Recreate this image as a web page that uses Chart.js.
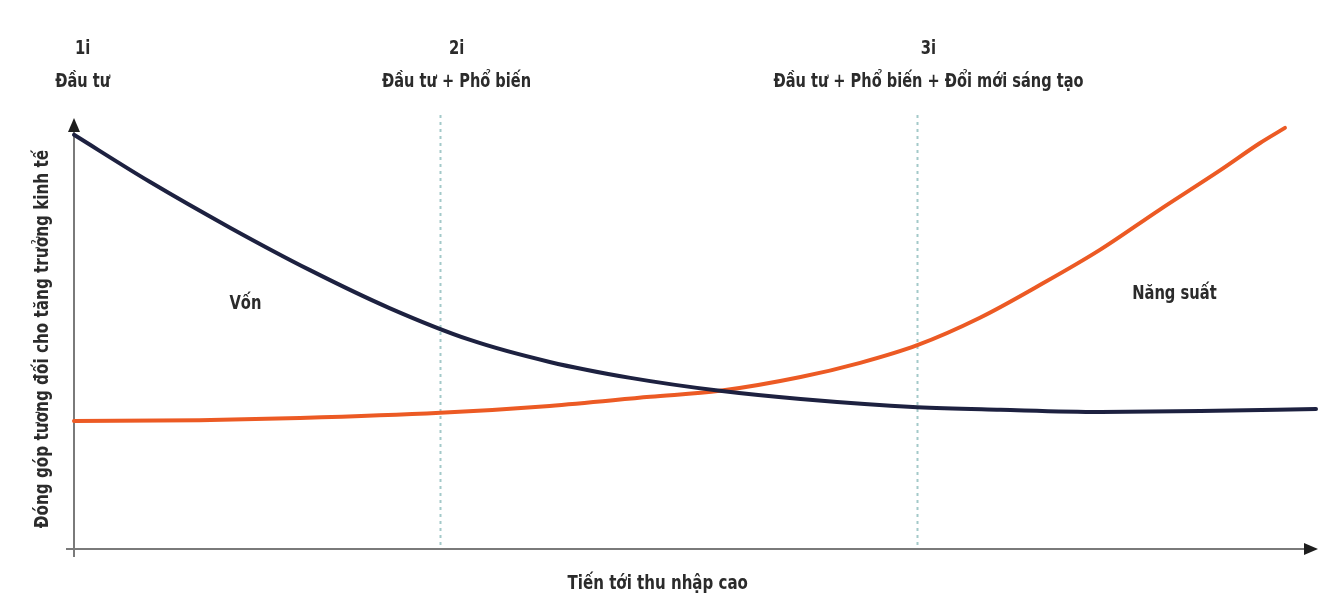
<!DOCTYPE html>
<html>
<head>
<meta charset="utf-8">
<script src="https://cdn.jsdelivr.net/npm/chart.js@4/dist/chart.umd.min.js"></script>
<style>
  html, body { margin: 0; padding: 0; background: #ffffff; }
  #wrap { width: 1330px; height: 598px; }
</style>
</head>
<body>
<div id="wrap"><canvas id="c" width="1330" height="598"></canvas></div>
<script>
// Position along the path to high income (0–100) and relative contribution (0–100)
const vonX = [0, 6.1, 12.6, 19.0, 25.4, 31.9, 38.3, 44.8, 52.0, 58.5, 67.9, 74.6, 82.6, 90.7, 100];
const vonY = [96.1, 85.2, 74.5, 64.7, 55.9, 48.5, 43.4, 39.7, 36.7, 34.8, 32.9, 32.3, 31.8, 32.0, 32.5];

const nangSuatX = [0, 10.1, 18.2, 29.5, 38.3, 46.4, 52.0, 58.5, 63.3, 67.9, 72.9, 77.8, 82.6, 87.4, 92.3, 95.5, 97.5];
const nangSuatY = [29.7, 29.9, 30.4, 31.6, 33.2, 35.3, 36.7, 39.9, 43.2, 47.3, 53.6, 61.3, 69.4, 78.7, 87.9, 94.2, 97.7];

// Stage markers (dotted verticals) and their headings
const stageLineX = [29.5, 67.9];
const stageHeadX = [0.7, 30.8, 68.8];
const stageNum = ['1i', '2i', '3i'];
const stageName = ['Đầu tư', 'Đầu tư + Phổ biến', 'Đầu tư + Phổ biến + Đổi mới sáng tạo'];

// In-plot series labels
const seriesNames = ['Vốn', 'Năng suất'];
const seriesLabelX = [13.8, 88.6];
const seriesLabelY = [57.3, 59.6];

const xTitle = 'Tiến tới thu nhập cao';
const xTitleAt = 47.0;
const yTitle = 'Đóng góp tương đối cho tăng trưởng kinh tế';
const yTitleAt = 48.7;

const FONT = '"DejaVu Sans Condensed", "DejaVu Sans", sans-serif';
const TEXT = '#2b2b2b';

const pts = (xs, ys) => xs.map((x, i) => ({ x: x, y: ys[i] }));

// narrow bold lettering: draw with a horizontal squeeze
function narrowText(ctx, text, x, y, squeeze) {
  ctx.save();
  ctx.translate(x, y);
  ctx.scale(squeeze, 1);
  ctx.fillText(text, 0, 0);
  ctx.restore();
}

const decor = {
  id: 'decor',
  beforeDatasetsDraw(chart) {
    const { ctx, chartArea: a, scales: { x } } = chart;
    ctx.save();
    // dotted stage lines
    ctx.strokeStyle = '#a3c9c9';
    ctx.lineWidth = 2;
    ctx.setLineDash([3, 4]);
    stageLineX.forEach(v => {
      const px = Math.round(x.getPixelForValue(v)) + 0.5;
      ctx.beginPath();
      ctx.moveTo(px, a.top - 3);
      ctx.lineTo(px, a.bottom - 1);
      ctx.stroke();
    });
    ctx.setLineDash([]);
    // axes
    ctx.strokeStyle = '#7a7a7a';
    ctx.lineWidth = 2;
    ctx.beginPath();
    ctx.moveTo(a.left, a.bottom + 8);
    ctx.lineTo(a.left, a.top + 8);
    ctx.moveTo(a.left - 8, a.bottom);
    ctx.lineTo(a.right - 6, a.bottom);
    ctx.stroke();
    // arrow heads
    ctx.fillStyle = '#1e1e1e';
    ctx.beginPath();
    ctx.moveTo(a.left, a.top);
    ctx.lineTo(a.left - 6, a.top + 14);
    ctx.lineTo(a.left + 6, a.top + 14);
    ctx.closePath();
    ctx.fill();
    ctx.beginPath();
    ctx.moveTo(a.right + 2, a.bottom);
    ctx.lineTo(a.right - 12, a.bottom - 6);
    ctx.lineTo(a.right - 12, a.bottom + 6);
    ctx.closePath();
    ctx.fill();
    ctx.restore();
  },
  afterDatasetsDraw(chart) {
    const { ctx, scales: { x, y } } = chart;
    ctx.save();
    ctx.fillStyle = TEXT;
    ctx.textAlign = 'center';
    ctx.textBaseline = 'alphabetic';
    ctx.font = 'bold 20px ' + FONT;
    stageHeadX.forEach((v, i) => {
      const px = x.getPixelForValue(v);
      narrowText(ctx, stageNum[i], px, 54, 0.82);
      narrowText(ctx, stageName[i], px, 87, 0.81);
    });
    ctx.font = 'bold 19px ' + FONT;
    seriesNames.forEach((t, i) => {
      narrowText(ctx, t, x.getPixelForValue(seriesLabelX[i]), y.getPixelForValue(seriesLabelY[i]) + 7, 0.86);
    });
    narrowText(ctx, xTitle, x.getPixelForValue(xTitleAt), 589, 0.88);
    ctx.translate(48, y.getPixelForValue(yTitleAt));
    ctx.rotate(-Math.PI / 2);
    narrowText(ctx, yTitle, 0, 0, 0.89);
    ctx.restore();
  }
};

new Chart(document.getElementById('c'), {
  type: 'line',
  data: {
    datasets: [
      {
        label: seriesNames[0],
        data: pts(vonX, vonY),
        borderColor: '#1d2140',
        borderWidth: 4,
        pointRadius: 0,
        cubicInterpolationMode: 'monotone',
        borderCapStyle: 'round',
        clip: false
      },
      {
        label: seriesNames[1],
        data: pts(nangSuatX, nangSuatY),
        borderColor: '#ec5a24',
        borderWidth: 4,
        pointRadius: 0,
        cubicInterpolationMode: 'monotone',
        borderCapStyle: 'round',
        clip: false
      }
    ]
  },
  options: {
    responsive: false,
    animation: false,
    layout: { padding: { left: 74, right: 14, top: 118, bottom: 49 } },
    plugins: { legend: { display: false }, tooltip: { enabled: false } },
    scales: {
      x: { type: 'linear', min: 0, max: 100, display: false },
      y: { type: 'linear', min: 0, max: 100, display: false }
    }
  },
  plugins: [decor]
});
</script>
</body>
</html>
